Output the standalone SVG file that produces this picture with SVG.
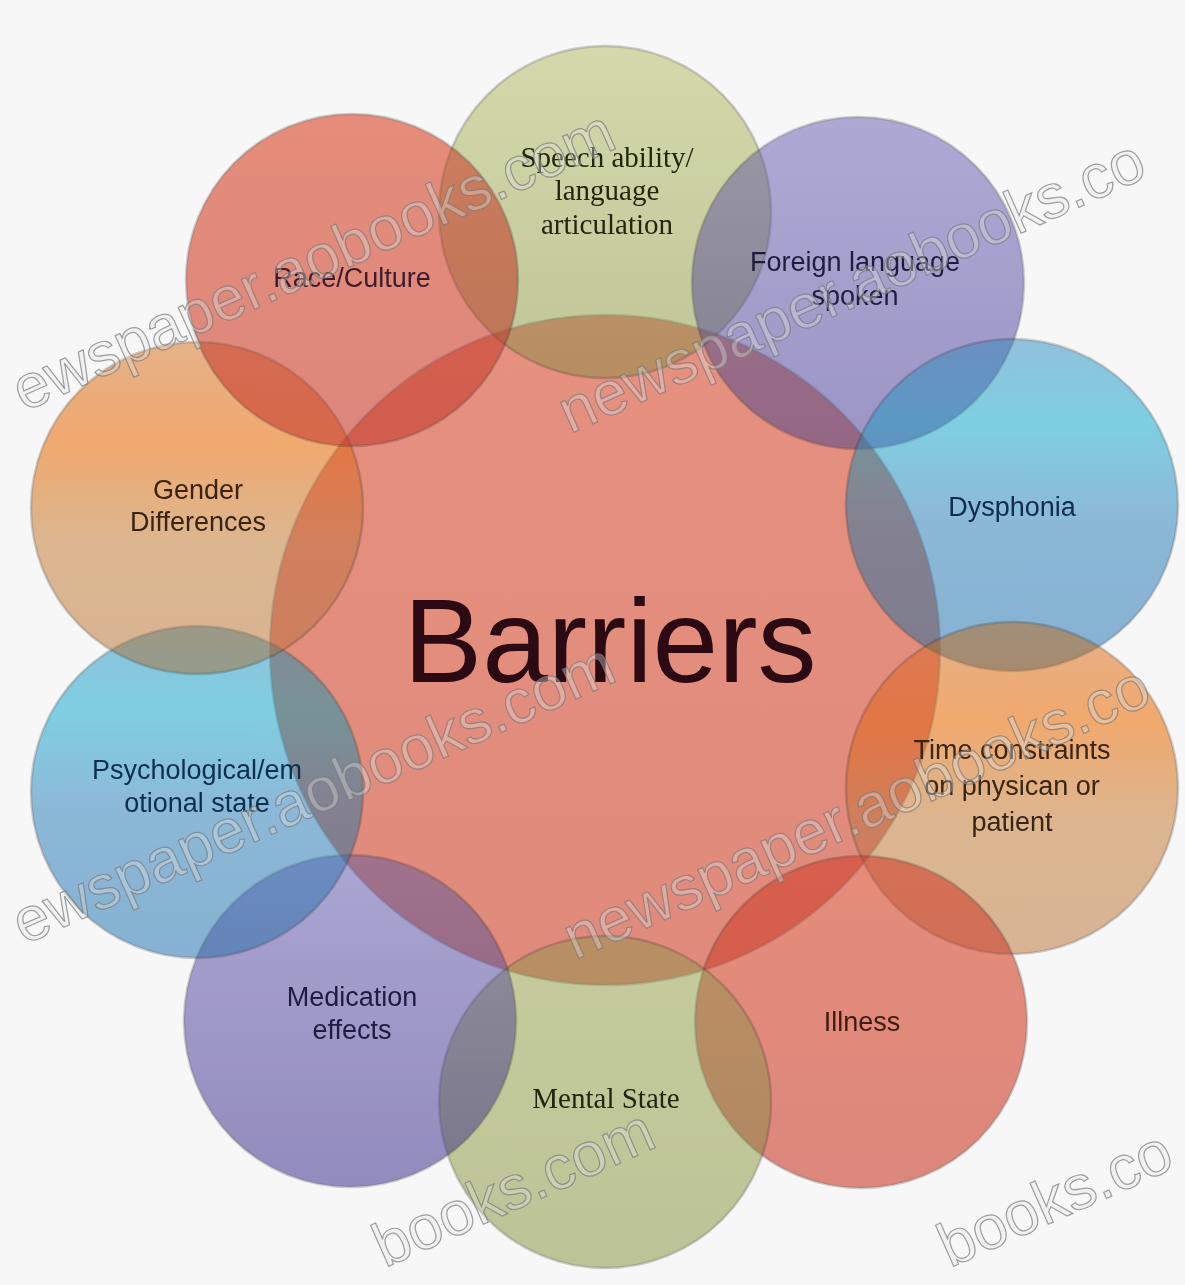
<svg xmlns="http://www.w3.org/2000/svg" width="1185" height="1285" viewBox="0 0 1185 1285">
  <style>
    .bg { fill: #f7f7f7; }
    .b { fill-opacity: 0.35; }
    .m { mix-blend-mode: multiply; stroke: #8c8c8c; stroke-opacity: 0.4; stroke-width: 2.5; }
    .lbl { font-family: "Liberation Sans", Arial, sans-serif; font-size: 27px; text-anchor: middle; }
    .ser { font-family: "Liberation Serif", "Times New Roman", serif; font-size: 29px; text-anchor: middle; }
    .big { font-family: "Liberation Sans", Arial, sans-serif; font-size: 118px; text-anchor: middle; fill: #2b0a14; }
    .wm { font-family: "Liberation Sans", Arial, sans-serif; font-size: 62px; fill: #e4e4e4; fill-opacity: 0.35; stroke: #777777; stroke-opacity: 0.7; stroke-width: 1.2; }
  </style>
  <defs>
    <linearGradient id="gCenter" x1="0" y1="0" x2="0" y2="1">
      <stop offset="0" stop-color="#e69080"/>
      <stop offset="1" stop-color="#e08a7b"/>
    </linearGradient>
    <linearGradient id="gSpeech" x1="0" y1="0" x2="0" y2="1">
      <stop offset="0" stop-color="#e2e6c0"/>
      <stop offset="1" stop-color="#d1d6ad"/>
    </linearGradient>
    <linearGradient id="gForeign" x1="0" y1="0" x2="0" y2="1">
      <stop offset="0" stop-color="#c2bee2"/>
      <stop offset="1" stop-color="#b2acd6"/>
    </linearGradient>
    <linearGradient id="gBlue" x1="0" y1="0" x2="0" y2="1">
      <stop offset="0" stop-color="#a7d2e8"/>
      <stop offset="0.25" stop-color="#97deec"/>
      <stop offset="0.55" stop-color="#a4cbe5"/>
      <stop offset="1" stop-color="#9ec5e0"/>
    </linearGradient>
    <linearGradient id="gOrange" x1="0" y1="0" x2="0" y2="1">
      <stop offset="0" stop-color="#f0c5a1"/>
      <stop offset="0.3" stop-color="#f8be87"/>
      <stop offset="0.6" stop-color="#e8c9a7"/>
      <stop offset="1" stop-color="#e5c7ab"/>
    </linearGradient>
    <linearGradient id="gSalmon" x1="0" y1="0" x2="0" y2="1">
      <stop offset="0" stop-color="#f0a493"/>
      <stop offset="1" stop-color="#e89f95"/>
    </linearGradient>
    <linearGradient id="gMental" x1="0" y1="0" x2="0" y2="1">
      <stop offset="0" stop-color="#d6dbb2"/>
      <stop offset="1" stop-color="#ced4ad"/>
    </linearGradient>
    <linearGradient id="gMed" x1="0" y1="0" x2="0" y2="1">
      <stop offset="0" stop-color="#c0bbe1"/>
      <stop offset="1" stop-color="#a9a3cf"/>
    </linearGradient>
  </defs>

  <rect class="bg" x="0" y="0" width="1185" height="1285"/>

  <g id="connectors"/>

  <g id="center">
    <circle cx="605" cy="650" r="335" fill="url(#gCenter)" stroke="#8c8c8c" stroke-opacity="0.4" stroke-width="2.5"/>
    <text class="big" x="610" y="682">Barriers</text>
  </g>

  <g id="n-speech">
    <circle class="b" cx="605" cy="212" r="166" fill="url(#gSpeech)"/>
    <circle class="m" cx="605" cy="212" r="166" fill="url(#gSpeech)"/>
    <text class="ser" fill="#22260e" x="607" y="167">Speech ability/</text>
    <text class="ser" fill="#22260e" x="607" y="200">language</text>
    <text class="ser" fill="#22260e" x="607" y="234">articulation</text>
  </g>

  <g id="n-foreign">
    <circle class="b" cx="858" cy="283" r="166" fill="url(#gForeign)"/>
    <circle class="m" cx="858" cy="283" r="166" fill="url(#gForeign)"/>
    <text class="lbl" fill="#1f1d3e" x="855" y="271">Foreign language</text>
    <text class="lbl" fill="#1f1d3e" x="855" y="305">spoken</text>
  </g>

  <g id="n-dysphonia">
    <circle class="b" cx="1012" cy="505" r="166" fill="url(#gBlue)"/>
    <circle class="m" cx="1012" cy="505" r="166" fill="url(#gBlue)"/>
    <text class="lbl" fill="#102c4c" x="1012" y="516">Dysphonia</text>
  </g>

  <g id="n-time">
    <circle class="b" cx="1012" cy="788" r="166" fill="url(#gOrange)"/>
    <circle class="m" cx="1012" cy="788" r="166" fill="url(#gOrange)"/>
    <text class="lbl" fill="#3a2412" x="1012" y="759">Time constraints</text>
    <text class="lbl" fill="#3a2412" x="1012" y="795">on physican or</text>
    <text class="lbl" fill="#3a2412" x="1012" y="831">patient</text>
  </g>

  <g id="n-illness">
    <circle class="b" cx="861" cy="1022" r="166" fill="url(#gSalmon)"/>
    <circle class="m" cx="861" cy="1022" r="166" fill="url(#gSalmon)"/>
    <text class="lbl" fill="#3e1c12" x="862" y="1031">Illness</text>
  </g>

  <g id="n-mental">
    <circle class="b" cx="605" cy="1102" r="166" fill="url(#gMental)"/>
    <circle class="m" cx="605" cy="1102" r="166" fill="url(#gMental)"/>
    <text class="ser" fill="#22260e" x="606" y="1108">Mental State</text>
  </g>

  <g id="n-medication">
    <circle class="b" cx="350" cy="1021" r="166" fill="url(#gMed)"/>
    <circle class="m" cx="350" cy="1021" r="166" fill="url(#gMed)"/>
    <text class="lbl" fill="#1e1c44" x="352" y="1006">Medication</text>
    <text class="lbl" fill="#1e1c44" x="352" y="1039">effects</text>
  </g>

  <g id="n-psych">
    <circle class="b" cx="197" cy="792" r="166" fill="url(#gBlue)"/>
    <circle class="m" cx="197" cy="792" r="166" fill="url(#gBlue)"/>
    <text class="lbl" fill="#0e2e4e" x="197" y="779">Psychological/em</text>
    <text class="lbl" fill="#0e2e4e" x="197" y="812">otional state</text>
  </g>

  <g id="n-gender">
    <circle class="b" cx="197" cy="508" r="166" fill="url(#gOrange)"/>
    <circle class="m" cx="197" cy="508" r="166" fill="url(#gOrange)"/>
    <text class="lbl" fill="#3a2312" x="198" y="499">Gender</text>
    <text class="lbl" fill="#3a2312" x="198" y="531">Differences</text>
  </g>

  <g id="n-race">
    <circle class="b" cx="352" cy="280" r="166" fill="url(#gSalmon)"/>
    <circle class="m" cx="352" cy="280" r="166" fill="url(#gSalmon)"/>
    <text class="lbl" fill="#3b1c2a" x="352" y="287">Race/Culture</text>
  </g>

  <g id="watermark">
    <text class="wm" transform="translate(24 412) rotate(-24)">ewspaper.aobooks.com</text>
    <text class="wm" transform="translate(570 434) rotate(-24)">newspaper.aobooks.co</text>
    <text class="wm" transform="translate(24 945) rotate(-24)">ewspaper.aobooks.com</text>
    <text class="wm" transform="translate(575 960) rotate(-24)">newspaper.aobooks.co</text>
    <text class="wm" transform="translate(385 1268) rotate(-24)">books.com</text>
    <text class="wm" transform="translate(950 1268) rotate(-24)">books.co</text>
  </g>
</svg>
